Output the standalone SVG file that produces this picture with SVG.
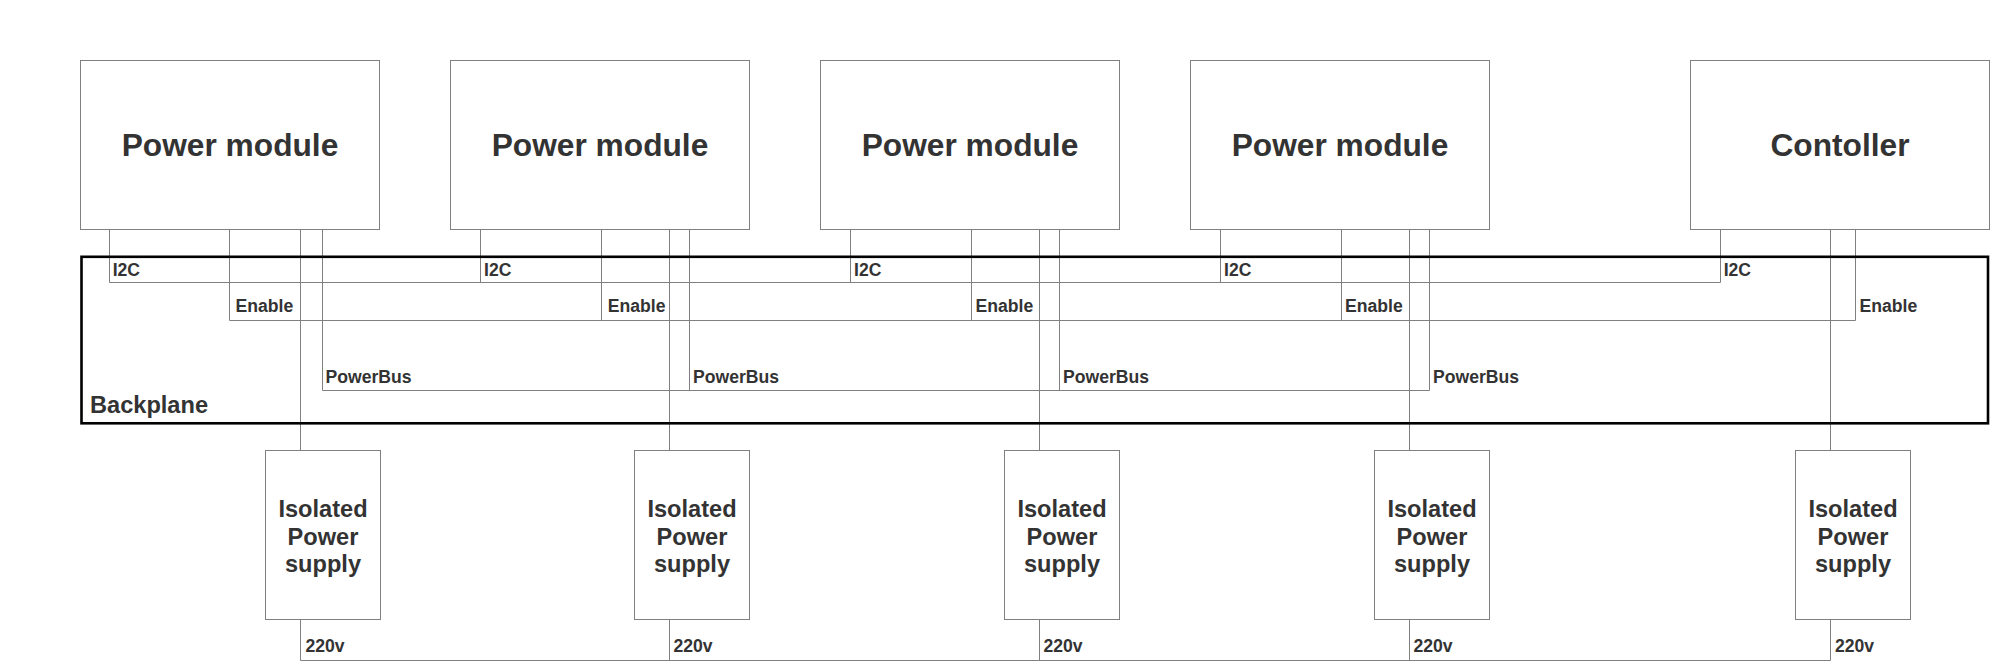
<svg xmlns="http://www.w3.org/2000/svg" width="1990" height="661" viewBox="0 0 1990 661">
<style>
.box{fill:#ffffff;stroke:#808080;stroke-width:1}
.ln{fill:none;stroke:#808080;stroke-width:1}
.bp{fill:none;stroke:#000000;stroke-width:2.6}
text{font-family:"Liberation Sans",Arial,sans-serif;font-weight:bold;fill:#333333}
.big{font-size:31.7px;text-anchor:middle}
.mid{font-size:23.6px;text-anchor:middle}
.lbl{font-size:17.6px}
.bpl{font-size:23.6px}
</style>
<rect width="1990" height="661" fill="#ffffff"/>
<g id="connectors">
<!-- I2C -->
<path class="ln" d="M109.5,229.5V282.5H1720.5V229.5M480.5,229.5V282.5M850.5,229.5V282.5M1220.5,229.5V282.5"/>
<!-- Enable -->
<path class="ln" d="M229.5,229.5V320.5H1855.5V229.5M601.5,229.5V320.5M971.5,229.5V320.5M1341.5,229.5V320.5"/>
<!-- PowerBus -->
<path class="ln" d="M322.5,229.5V390.5H1429.5V229.5M689.5,229.5V390.5M1059.5,229.5V390.5"/>
<!-- module to supply -->
<path class="ln" d="M300.5,229.5V450.5M669.5,229.5V450.5M1039.5,229.5V450.5M1409.5,229.5V450.5M1830.5,229.5V450.5"/>
<!-- 220v -->
<path class="ln" d="M300.5,619.5V660.5H1830.5V619.5M669.5,619.5V660.5M1039.5,619.5V660.5M1409.5,619.5V660.5"/>
<g id="connector-labels">
<text class="lbl" x="112.7" y="275.8">I2C</text>
<text class="lbl" x="484" y="275.8">I2C</text>
<text class="lbl" x="854" y="275.8">I2C</text>
<text class="lbl" x="1224" y="275.8">I2C</text>
<text class="lbl" x="1723.7" y="275.8">I2C</text>
<text class="lbl" x="235.5" y="312.2">Enable</text>
<text class="lbl" x="607.8" y="312.2">Enable</text>
<text class="lbl" x="975.5" y="312.2">Enable</text>
<text class="lbl" x="1345" y="312.2">Enable</text>
<text class="lbl" x="1859.5" y="312.2">Enable</text>
<text class="lbl" x="325.5" y="383">PowerBus</text>
<text class="lbl" x="693" y="383">PowerBus</text>
<text class="lbl" x="1063" y="383">PowerBus</text>
<text class="lbl" x="1433" y="383">PowerBus</text>
<text class="lbl" x="305.5" y="651.5">220v</text>
<text class="lbl" x="673.5" y="651.5">220v</text>
<text class="lbl" x="1043.5" y="651.5">220v</text>
<text class="lbl" x="1413.5" y="651.5">220v</text>
<text class="lbl" x="1835" y="651.5">220v</text>
</g>
</g>
<g id="backplane">
<rect class="bp" x="81.5" y="256.8" width="1906.5" height="166.5"/>
<text class="bpl" x="90" y="413.3">Backplane</text>
</g>
<g id="power-module-1"><rect class="box" x="80.5" y="60.5" width="299" height="169"/><text class="big" x="230" y="156">Power module</text></g>
<g id="power-module-2"><rect class="box" x="450.5" y="60.5" width="299" height="169"/><text class="big" x="600" y="156">Power module</text></g>
<g id="power-module-3"><rect class="box" x="820.5" y="60.5" width="299" height="169"/><text class="big" x="970" y="156">Power module</text></g>
<g id="power-module-4"><rect class="box" x="1190.5" y="60.5" width="299" height="169"/><text class="big" x="1340" y="156">Power module</text></g>
<g id="controller"><rect class="box" x="1690.5" y="60.5" width="299" height="169"/><text class="big" x="1840" y="156">Contoller</text></g>
<g id="supply-1"><rect class="box" x="265.5" y="450.5" width="115" height="169"/><text class="mid" x="323" y="517">Isolated</text><text class="mid" x="323" y="544.5">Power</text><text class="mid" x="323" y="572">supply</text></g>
<g id="supply-2"><rect class="box" x="634.5" y="450.5" width="115" height="169"/><text class="mid" x="692" y="517">Isolated</text><text class="mid" x="692" y="544.5">Power</text><text class="mid" x="692" y="572">supply</text></g>
<g id="supply-3"><rect class="box" x="1004.5" y="450.5" width="115" height="169"/><text class="mid" x="1062" y="517">Isolated</text><text class="mid" x="1062" y="544.5">Power</text><text class="mid" x="1062" y="572">supply</text></g>
<g id="supply-4"><rect class="box" x="1374.5" y="450.5" width="115" height="169"/><text class="mid" x="1432" y="517">Isolated</text><text class="mid" x="1432" y="544.5">Power</text><text class="mid" x="1432" y="572">supply</text></g>
<g id="supply-5"><rect class="box" x="1795.5" y="450.5" width="115" height="169"/><text class="mid" x="1853" y="517">Isolated</text><text class="mid" x="1853" y="544.5">Power</text><text class="mid" x="1853" y="572">supply</text></g>
</svg>
